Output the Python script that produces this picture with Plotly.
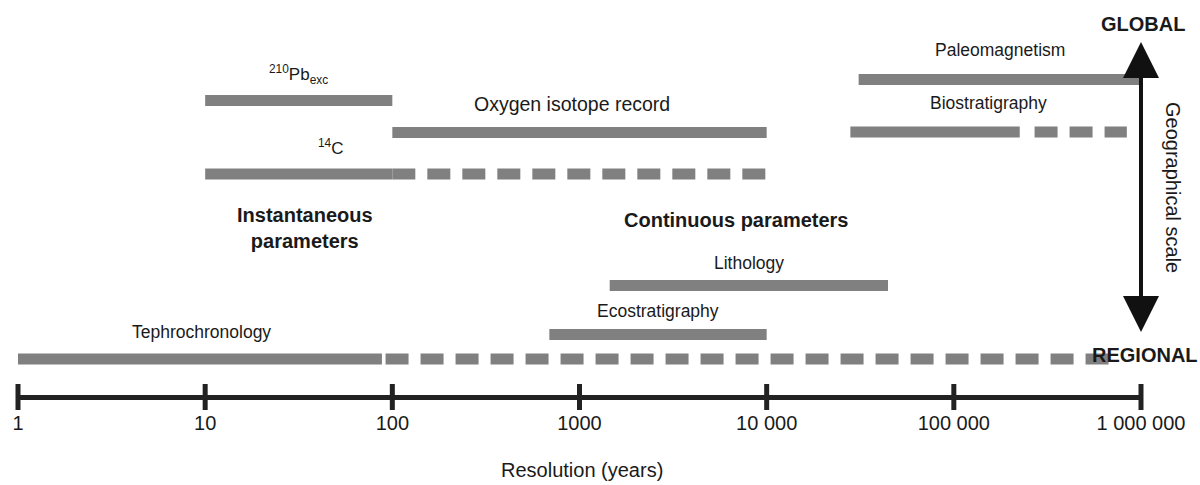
import math
import plotly.graph_objects as go

# ---- data: resolution ranges (years) covered by each dating method ----
methods = ["Paleomagnetism", "Biostratigraphy", "Oxygen isotope record",
           "<sup>210</sup>Pb<sub>exc</sub>", "<sup>14</sup>C",
           "Lithology", "Ecostratigraphy", "Tephrochronology"]
solid_from = [31000, 28000, 100, 10, 10, 1450, 690, 1]
solid_to = [1000000, 225000, 10000, 100, 100, 44500, 10000, 88]
# extended, less certain part of the range (drawn dashed)
dashed_from = [None, 270000, None, None, 100, None, None, 92]
dashed_to = [None, 840000, None, None, 10000, None, None, 700000]

tick_values = [1, 10, 100, 1000, 10000, 100000, 1000000]
tick_labels = ["1", "10", "100", "1000", "10 000", "100 000", "1 000 000"]

# ---- layout: vertical placement in pixel rows from the top ----
FIG_H = 485
AXIS_ROW = 397
bar_rows = [79.5, 132, 132.5, 100.5, 174, 285.5, 334.5, 359]
label_rows = [50, 103, 104, 74, 146.5, 263, 311, 331.5]
label_sizes = [17.5, 17.5, 19.5, 17, 17, 17.5, 17.5, 17.5]
label_at = {2: 912, 4: 47, 7: 9.6}     # labels not centred over their bar

BAR_GREY = "#808080"
INK = "#1a1a1a"
AXIS_INK = "#222222"
FONT = "Liberation Sans, Arial, sans-serif"

fig = go.Figure()

for i, name in enumerate(methods):
    fig.add_trace(go.Scatter(
        x=[solid_from[i], solid_to[i]], y=[bar_rows[i], bar_rows[i]],
        mode="lines", line=dict(color=BAR_GREY, width=11),
        hoverinfo="skip", showlegend=False, cliponaxis=False))
    if dashed_from[i] is not None:
        fig.add_trace(go.Scatter(
            x=[dashed_from[i], dashed_to[i]], y=[bar_rows[i], bar_rows[i]],
            mode="lines", line=dict(color=BAR_GREY, width=11, dash="23px,12px"),
            hoverinfo="skip", showlegend=False, cliponaxis=False))

# tick marks crossing the axis line
fig.add_trace(go.Scatter(
    x=tick_values, y=[AXIS_ROW] * len(tick_values), mode="markers",
    marker=dict(symbol="line-ns", size=18.6, color=AXIS_INK,
                line=dict(color=AXIS_INK, width=5)),
    hoverinfo="skip", showlegend=False, cliponaxis=False))

annotations = []
for i, name in enumerate(methods):
    lo = solid_from[i]
    hi = dashed_to[i] if dashed_to[i] is not None else solid_to[i]
    xc = math.log10(label_at[i]) if i in label_at else (math.log10(lo) + math.log10(hi)) / 2
    annotations.append(dict(x=xc, y=label_rows[i], xref="x", yref="y", text=name,
                            showarrow=False,
                            font=dict(size=label_sizes[i], color=INK, family=FONT)))

annotations += [
    dict(x=math.log10(34), y=228, xref="x", yref="y",
         text="<b>Instantaneous<br>parameters</b>", showarrow=False,
         font=dict(size=20, color=INK, family=FONT)),
    dict(x=math.log10(6850), y=220, xref="x", yref="y",
         text="<b>Continuous parameters</b>", showarrow=False,
         font=dict(size=20, color=INK, family=FONT)),
    dict(x=6, y=24, xref="x", yref="y", xshift=2, text="<b>GLOBAL</b>",
         showarrow=False, font=dict(size=20, color=INK, family=FONT)),
    dict(x=6, y=355, xref="x", yref="y", xshift=4, text="<b>REGIONAL</b>",
         showarrow=False, font=dict(size=20, color=INK, family=FONT)),
    dict(x=6, y=187, xref="x", yref="y", xshift=32, text="Geographical scale",
         textangle=90, showarrow=False, font=dict(size=20, color=INK, family=FONT)),
    dict(x=0.5, y=470, xref="paper", yref="y", xshift=2, text="Resolution (years)",
         showarrow=False, font=dict(size=20, color=INK, family=FONT)),
    # double-headed geographical scale arrow (two overlapping halves)
    dict(x=6, y=42, xref="x", yref="y", ax=6, ay=205, axref="x", ayref="y",
         text="", showarrow=True, arrowhead=2, arrowsize=1.8, arrowwidth=4,
         arrowcolor="#111111"),
    dict(x=6, y=332, xref="x", yref="y", ax=6, ay=170, axref="x", ayref="y",
         text="", showarrow=True, arrowhead=2, arrowsize=1.8, arrowwidth=4,
         arrowcolor="#111111"),
]

fig.update_layout(
    width=1200, height=FIG_H,
    margin=dict(l=18, r=59, t=0, b=0),
    paper_bgcolor="white", plot_bgcolor="white",
    showlegend=False,
    annotations=annotations,
    font=dict(family=FONT, color=INK),
    xaxis=dict(
        type="log", range=[0, 6], showgrid=False, zeroline=False,
        anchor="free", position=(FIG_H - AXIS_ROW) / FIG_H,
        showline=True, linewidth=5, linecolor=AXIS_INK,
        tickvals=tick_values, ticktext=tick_labels,
        ticks="outside", ticklen=6, tickwidth=5, tickcolor="rgba(0,0,0,0)",
        tickfont=dict(size=20, color=INK, family=FONT),
        fixedrange=True,
    ),
    yaxis=dict(range=[FIG_H, 0], visible=False, showgrid=False,
               zeroline=False, fixedrange=True),
)

fig.write_html("out.html")
